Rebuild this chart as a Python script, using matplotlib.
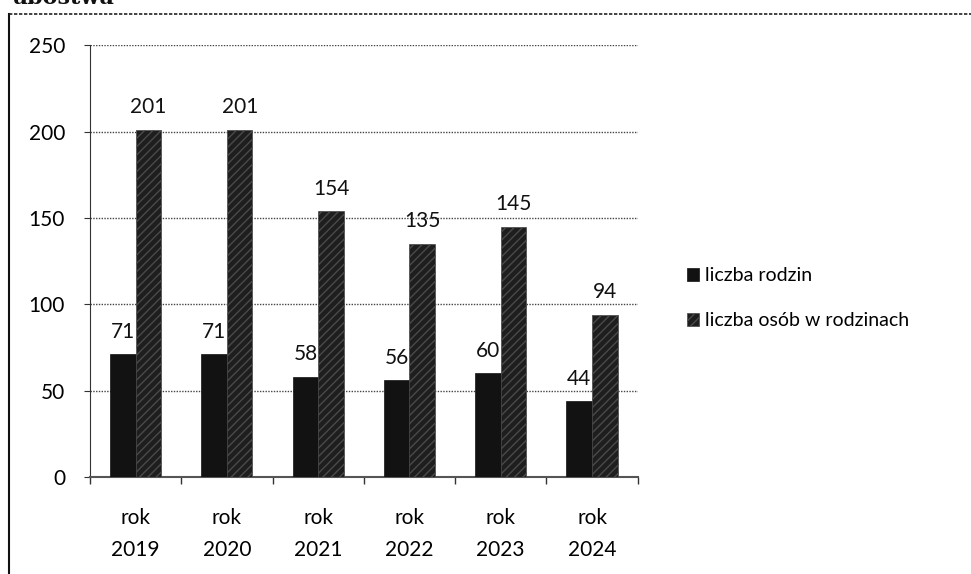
import matplotlib
matplotlib.use("Agg")
import matplotlib.pyplot as plt
import numpy as np

categories = ["rok\n2019", "rok\n2020", "rok\n2021", "rok\n2022", "rok\n2023", "rok\n2024"]
rodziny = [71, 71, 58, 56, 60, 44]
osoby = [201, 201, 154, 135, 145, 94]
series_names = ["liczba rodzin", "liczba osób w rodzinach"]
yticks = [0, 50, 100, 150, 200, 250]

plt.rcParams['font.family'] = ['Lato', 'DejaVu Sans']

fig = plt.figure(figsize=(9.71, 5.74), dpi=100)
ax = fig.add_axes([0.0927, 0.169, 0.564, 0.752])

x = np.arange(len(categories))
w = 0.28
b1 = ax.bar(x - w/2, rodziny, w, color="#121212", edgecolor="#121212", linewidth=0.5, zorder=3)
b2 = ax.bar(x + w/2, osoby, w, color="#1e1e1e", hatch="////", linewidth=0.5, zorder=3)
for p in b2:
    p.set_edgecolor("#4a4a4a")

for bars, vals in ((b1, rodziny), (b2, osoby)):
    for r, v in zip(bars, vals):
        ax.annotate(str(v), (r.get_x() + r.get_width()/2, v), xytext=(0, 9),
                    textcoords="offset points", ha="center", va="bottom",
                    fontsize=15, color="#111111", zorder=4)

ax.set_xlim(-0.5, len(categories) - 0.5)
ax.set_ylim(0, 250)
ax.set_yticks(yticks)
ax.set_yticklabels([str(t) for t in yticks], fontsize=15)
ax.set_xticks(x)
ax.set_xticklabels(categories, fontsize=15, linespacing=1.75)
ax.set_xticks(np.arange(-0.5, len(categories), 1.0), minor=True)
ax.tick_params(axis="x", which="major", length=0, pad=22)
ax.tick_params(axis="x", which="minor", length=5, width=1, color="#333333", direction="out")
ax.tick_params(axis="y", length=4, color="#333333", pad=14)

ax.yaxis.grid(True, linestyle=(0, (1, 1)), color="#444444", linewidth=1.0, zorder=0)
for s in ("top", "right"):
    ax.spines[s].set_visible(False)
ax.spines["left"].set_linestyle((0, (2, 1)))
ax.spines["left"].set_color("#333333")
ax.spines["bottom"].set_color("#555555")
ax.spines["bottom"].set_linewidth(1.5)

leg = fig.legend([b1, b2], series_names, loc="upper left", bbox_to_anchor=(0.69, 0.565),
                 frameon=False, fontsize=14, handlelength=0.6, handleheight=0.6,
                 handletextpad=0.3, labelspacing=1.45)

# outer frame of the scanned chart
fig.add_artist(plt.Line2D([0.009, 0.009], [0.0, 0.975], color="#111111", linewidth=1.5, transform=fig.transFigure))
fig.add_artist(plt.Line2D([0.009, 1.0], [0.975, 0.975], color="#222222", linewidth=1.2, linestyle=(0, (2, 1)), transform=fig.transFigure))
fig.text(0.012, 0.985, "ubóstwa", fontsize=16, fontweight="bold", family="DejaVu Serif", va="bottom", color="#111111")

fig.savefig("out.png", dpi=100)
